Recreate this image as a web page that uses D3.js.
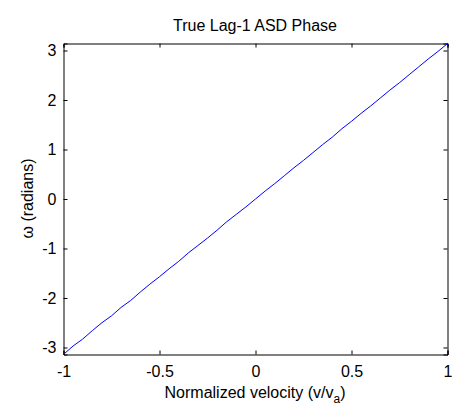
<!DOCTYPE html>
<html>
<head>
<meta charset="utf-8">
<script src="https://cdn.jsdelivr.net/npm/d3@7"></script>
<style>
  body { margin: 0; background: #fff; }
  svg text { font-family: "Liberation Sans", Arial, sans-serif; fill: #000; }
</style>
</head>
<body>
<div id="chart"></div>
<script>
// velocity samples (v/va) and the phase
var velocity = [-1, -0.95, -0.9, -0.85, -0.8, -0.75, -0.7, -0.65, -0.6, -0.55, -0.5,
    -0.45, -0.4, -0.35, -0.3, -0.25, -0.2, -0.15, -0.1, -0.05, 0,
    0.05, 0.1, 0.15, 0.2, 0.25, 0.3, 0.35, 0.4, 0.45, 0.5,
    0.55, 0.6, 0.65, 0.7, 0.75, 0.8, 0.85, 0.9, 0.95, 1];
var phase = [-3.14, -2.97, -2.83, -2.66, -2.50, -2.36, -2.19, -2.05, -1.88, -1.72, -1.57,
    -1.41, -1.26, -1.09, -0.94, -0.79, -0.63, -0.46, -0.31, -0.16, 0.0,
    0.16, 0.31, 0.47, 0.63, 0.78, 0.94, 1.10, 1.25, 1.42, 1.57,
    1.73, 1.88, 2.04, 2.20, 2.35, 2.51, 2.67, 2.83, 2.98, 3.14];
var xTicks = [-1, -0.5, 0, 0.5, 1];
var yTicks = [-3, -2, -1, 0, 1, 2, 3];

var W = 452, H = 411;
var margin = { top: 43, right: 5, bottom: 57, left: 63 },
    width = W - margin.left - margin.right,
    height = H - margin.top - margin.bottom;

var x = d3.scaleLinear().domain([-1, 1]).range([0, width]);
var y = d3.scaleLinear().domain([-Math.PI, Math.PI]).range([height, 0]);

var svg = d3.select("#chart").append("svg")
    .attr("width", W)
    .attr("height", H);

var g = svg.append("g")
    .attr("transform", "translate(" + (margin.left + 0.5) + "," + (margin.top + 0.5) + ")");

// axes, ticks pointing inward like matlab
var fmt = function (d) { return String(d); };
var gx = g.append("g")
    .attr("transform", "translate(0," + height + ")")
    .call(d3.axisBottom(x).tickValues(xTicks).tickSize(-4).tickPadding(11).tickFormat(fmt));
g.append("g")
    .call(d3.axisTop(x).tickValues(xTicks).tickSize(-4).tickFormat(""));
var gy = g.append("g")
    .call(d3.axisLeft(y).tickValues(yTicks).tickSize(-4).tickPadding(7).tickFormat(fmt));
g.append("g")
    .attr("transform", "translate(" + width + ",0)")
    .call(d3.axisRight(y).tickValues(yTicks).tickSize(-4).tickFormat(""));

g.selectAll(".domain").attr("stroke", "#000");
g.selectAll(".tick line").attr("stroke", "#000");
g.selectAll(".tick text").style("font-size", "16px").style("font-family", "Liberation Sans, Arial, sans-serif");
gx.selectAll(".tick text").attr("dy", "0.71em");

// the curve
var line = d3.line()
    .x(function (d, i) { return x(velocity[i]); })
    .y(function (d) { return y(d); });
g.append("path")
    .datum(phase)
    .attr("fill", "none")
    .attr("stroke", "#0000ff")
    .attr("stroke-width", 1)
    .attr("d", line);

// title and labels
svg.append("text")
    .attr("x", margin.left + width / 2)
    .attr("y", 31)
    .attr("text-anchor", "middle")
    .style("font-size", "16px")
    .text("True Lag-1 ASD Phase");

var xl = svg.append("text")
    .attr("x", margin.left + width / 2)
    .attr("y", 398)
    .attr("text-anchor", "middle")
    .style("font-size", "16px");
xl.append("tspan").text("Normalized velocity (v/v");
xl.append("tspan").attr("dy", 5).style("font-size", "12px").text("a");
xl.append("tspan").attr("dy", -5).text(")");

svg.append("text")
    .attr("transform", "translate(33," + (margin.top + height / 2) + ") rotate(-90)")
    .attr("text-anchor", "middle")
    .style("font-size", "16px")
    .text("ω (radians)");
</script>
</body>
</html>
